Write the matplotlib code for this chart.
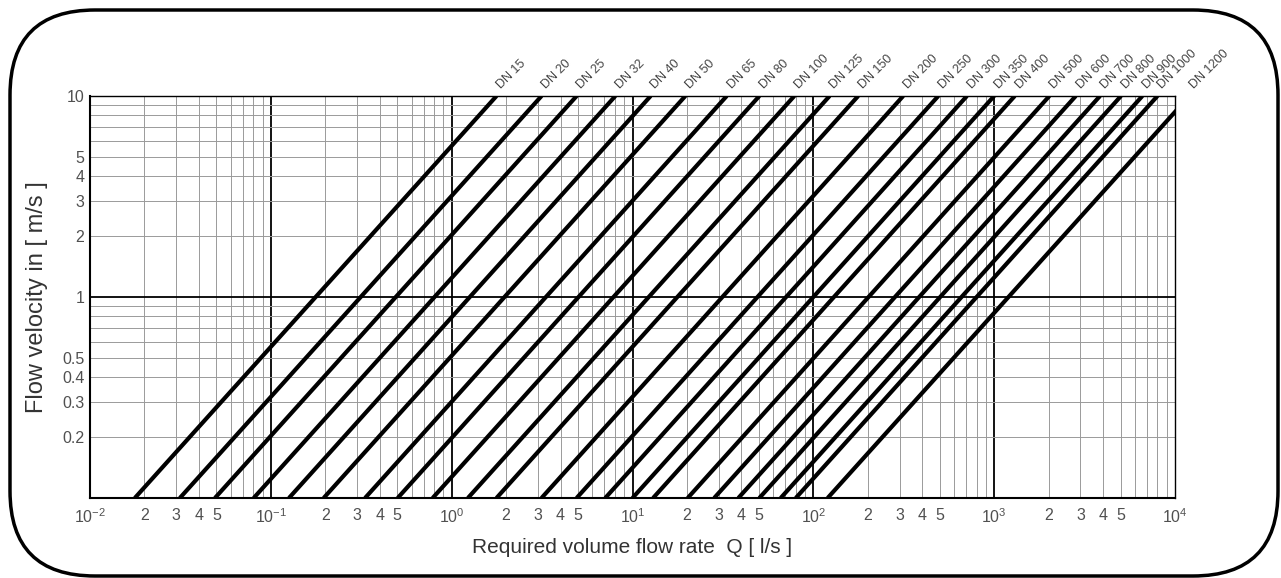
import matplotlib.pyplot as plt
from matplotlib.patches import FancyBboxPatch

# pipe sizes and the flow (l/s) where each line meets 0.1 m/s and 10 m/s
dn_labels = ["DN 15", "DN 20", "DN 25", "DN 32", "DN 40", "DN 50", "DN 65", "DN 80",
             "DN 100", "DN 125", "DN 150", "DN 200", "DN 250", "DN 300", "DN 350",
             "DN 400", "DN 500", "DN 600", "DN 700", "DN 800", "DN 900", "DN 1000", "DN 1200"]
q_low = [0.0177, 0.0314, 0.0491, 0.0804, 0.126, 0.196, 0.332, 0.503,
         0.785, 1.23, 1.77, 3.14, 4.91, 7.07, 10.0,
         13.0, 20.2, 28.3, 38.5, 50.3, 66.0, 80.0, 120]
q_high = [1.77, 3.14, 4.91, 8.04, 12.6, 19.6, 33.2, 50.3,
          78.5, 123, 177, 314, 491, 707, 1000,
          1300, 2020, 2827, 3848, 5027, 6600, 8000, 12000]

x_decades = [1e-2, 1e-1, 1e0, 1e1, 1e2, 1e3, 1e4]
x_decade_labels = [r"$\mathregular{10^{-2}}$", r"$\mathregular{10^{-1}}$", r"$\mathregular{10^{0}}$",
                   r"$\mathregular{10^{1}}$", r"$\mathregular{10^{2}}$", r"$\mathregular{10^{3}}$",
                   r"$\mathregular{10^{4}}$"]
x_minor_digits = [2, 3, 4, 5]
y_ticks = [0.2, 0.3, 0.4, 0.5, 1, 2, 3, 4, 5, 10]
y_tick_labels = ["0.2", "0.3", "0.4", "0.5", "1", "2", "3", "4", "5", "10"]

plt.rcParams['font.family'] = ['Liberation Sans', 'DejaVu Sans']
plt.rcParams['mathtext.fontset'] = 'custom'
plt.rcParams['mathtext.rm'] = 'Liberation Sans'

fig = plt.figure(figsize=(12.81, 5.78), dpi=100)
ax = fig.add_axes([90 / 1281, 1 - 498 / 578, 1085 / 1281, 402 / 578])
ax.set_xscale('log')
ax.set_yscale('log')
ax.set_xlim(1e-2, 1e4)
ax.set_ylim(0.1, 10)

# grid: thin grey minors, black decades
for d in x_decades[:-1]:
    for m in range(2, 10):
        ax.axvline(d * m, color='#9a9a9a', lw=0.7, zorder=1)
    if d > 1e-2:
        ax.axvline(d, color='black', lw=1.3, zorder=1)
for d in [0.1, 1]:
    for m in range(2, 10):
        ax.axhline(d * m, color='#9a9a9a', lw=0.7, zorder=1)
ax.axhline(1, color='black', lw=1.3, zorder=1)

for lab, q0, q1 in zip(dn_labels, q_low, q_high):
    ax.plot([q0, q1], [0.1, 10], color='black', lw=3.0, solid_capstyle='butt', zorder=3)
    ax.annotate(lab, xy=(q1, 10), xytext=(5, 3.5), textcoords='offset points',
                rotation=45, rotation_mode='anchor', ha='left', va='bottom',
                fontsize=9, color='#444444', annotation_clip=False)

# ticks
xt, xl = [], []
for d, lab in zip(x_decades, x_decade_labels):
    xt.append(d)
    xl.append(lab)
    if d < 1e4:
        for m in x_minor_digits:
            xt.append(d * m)
            xl.append(str(m))
ax.set_xticks(xt)
ax.set_xticklabels(xl)
ax.xaxis.set_minor_locator(plt.NullLocator())
ax.set_yticks(y_ticks)
ax.set_yticklabels(y_tick_labels)
ax.yaxis.set_minor_locator(plt.NullLocator())
ax.tick_params(length=0, labelsize=11.5, labelcolor='#505050')
ax.tick_params(axis='x', pad=7)
ax.tick_params(axis='y', pad=4)

for s in ['left', 'bottom']:
    ax.spines[s].set_linewidth(1.5)
for s in ['top', 'right']:
    ax.spines[s].set_linewidth(1.0)

ax.set_xlabel("Required volume flow rate  Q [ l/s ]", fontsize=15, color='#333333', labelpad=8)
ax.set_ylabel("Flow velocity in [ m/s ]", fontsize=17, color='#333333', labelpad=10)

# rounded frame round the whole picture
frame = FancyBboxPatch((10, 2), 1268, 566, boxstyle="round,pad=0,rounding_size=85",
                       transform=None, fill=False, ec='black', lw=2.5, clip_on=False)
fig.add_artist(frame)

fig.savefig('out.png', dpi=100)
